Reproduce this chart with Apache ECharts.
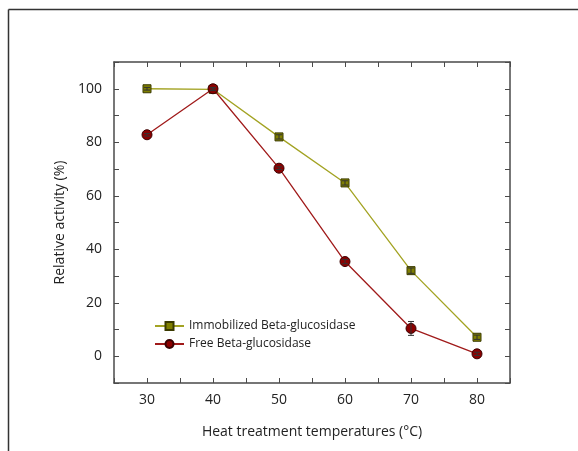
<!DOCTYPE html>
<html><head><meta charset="utf-8">
<script src="https://cdn.jsdelivr.net/npm/echarts@6/dist/echarts.min.js"></script>
<style>html,body{margin:0;padding:0;background:#fff}#c{width:578px;height:451px}</style>
</head><body><div id="c"></div>
<script>
const temps = [30, 40, 50, 60, 70, 80];
const immobilized = [100, 99.8, 82, 64.8, 32, 7.1];
const immobilizedErr = [0.5, 0.5, 0.8, 0.8, 1.0, 0.8];
const free = [82.8, 100, 70.3, 35.4, 10.4, 0.9];
const freeErr = [0.5, 0.5, 0.5, 0.8, 2.6, 0.6];
const xTickLabels = [30, 40, 50, 60, 70, 80];
const yTickLabels = [0, 20, 40, 60, 80, 100];

const font = '"Open Sans", "Noto Sans", sans-serif';
const axisColor = '#4a4a4a';
function pairs(xs, ys){ return xs.map((x,i)=>[x, ys[i]]); }
function errData(xs, ys, es){ return xs.map((x,i)=>[x, ys[i]-es[i], ys[i]+es[i]]); }
function errSeries(name, data){
  return {
    type:'custom', name:name+'_err', silent:true, z:5,
    renderItem:function(params, api){
      const x = api.value(0);
      const lo = api.coord([x, api.value(1)]);
      const hi = api.coord([x, api.value(2)]);
      const w = 3;
      const st = {stroke:'#333', lineWidth:1};
      return {type:'group', children:[
        {type:'line', shape:{x1:lo[0], y1:lo[1], x2:hi[0], y2:hi[1]}, style:st},
        {type:'line', shape:{x1:lo[0]-w, y1:lo[1], x2:lo[0]+w, y2:lo[1]}, style:st},
        {type:'line', shape:{x1:hi[0]-w, y1:hi[1], x2:hi[0]+w, y2:hi[1]}, style:st}
      ]};
    },
    encode:{x:0, y:[1,2]},
    data:data
  };
}
const xBase = {type:'value', min:25, max:85, interval:5,
  axisLine:{show:true, onZero:false, lineStyle:{color:axisColor, width:1.5}},
  axisTick:{show:true, inside:true, length:5, lineStyle:{color:axisColor, width:1}},
  splitLine:{show:false}};
const yBase = {type:'value', min:-10, max:110, interval:10,
  axisLine:{show:true, onZero:false, lineStyle:{color:axisColor, width:1.5}},
  axisTick:{show:true, inside:true, length:5, lineStyle:{color:axisColor, width:1}},
  splitLine:{show:false}};

const chart = echarts.init(document.getElementById('c'), null, {renderer:'canvas'});
chart.setOption({
  animation:false,
  backgroundColor:'#fff',
  grid:{left:114, top:62, right:68, bottom:68},
  graphic:[
    {type:'line', shape:{x1:8.5, y1:9.5, x2:578, y2:9.5}, style:{stroke:'#333', lineWidth:1.5}},
    {type:'line', shape:{x1:8.5, y1:9.5, x2:8.5, y2:451}, style:{stroke:'#333', lineWidth:1.5}}
  ],
  legend:{
    orient:'vertical', left:149, top:315, itemGap:6, itemWidth:29, itemHeight:10,
    textStyle:{fontFamily:font, fontSize:12, color:'#222'},
    data:['Immobilized Beta-glucosidase','Free Beta-glucosidase']
  },
  xAxis:[
    Object.assign({}, xBase, {position:'bottom',
      name:'Heat treatment temperatures (°C)', nameLocation:'middle', nameGap:42,
      nameTextStyle:{fontFamily:font, fontSize:14, color:'#222'},
      axisLabel:{fontFamily:font, fontSize:14, color:'#222', margin:10,
        formatter:function(v){ return xTickLabels.indexOf(v) >= 0 ? String(v) : ''; }}}),
    Object.assign({}, xBase, {position:'top', axisLabel:{show:false}})
  ],
  yAxis:[
    Object.assign({}, yBase, {position:'left',
      name:'Relative activity (%)', nameLocation:'middle', nameGap:43,
      nameTextStyle:{fontFamily:font, fontSize:14, color:'#222'},
      axisLabel:{fontFamily:font, fontSize:14, color:'#222', margin:12,
        formatter:function(v){ return yTickLabels.indexOf(v) >= 0 ? String(v) : ''; }}}),
    Object.assign({}, yBase, {position:'right', axisLabel:{show:false}})
  ],
  series:[
    {name:'Immobilized Beta-glucosidase', type:'line', z:3, data:pairs(temps, immobilized),
      symbol:'rect', symbolSize:8,
      lineStyle:{color:'#a3a323', width:1.3},
      itemStyle:{color:'#7f7f00', borderColor:'#3a3a00', borderWidth:1}},
    {name:'Free Beta-glucosidase', type:'line', z:4, data:pairs(temps, free),
      symbol:'circle', symbolSize:10,
      lineStyle:{color:'#a01a1a', width:1.3},
      itemStyle:{color:'#8b0000', borderColor:'#3a0000', borderWidth:1}},
    errSeries('imm', errData(temps, immobilized, immobilizedErr)),
    errSeries('free', errData(temps, free, freeErr))
  ]
});
</script></body></html>
